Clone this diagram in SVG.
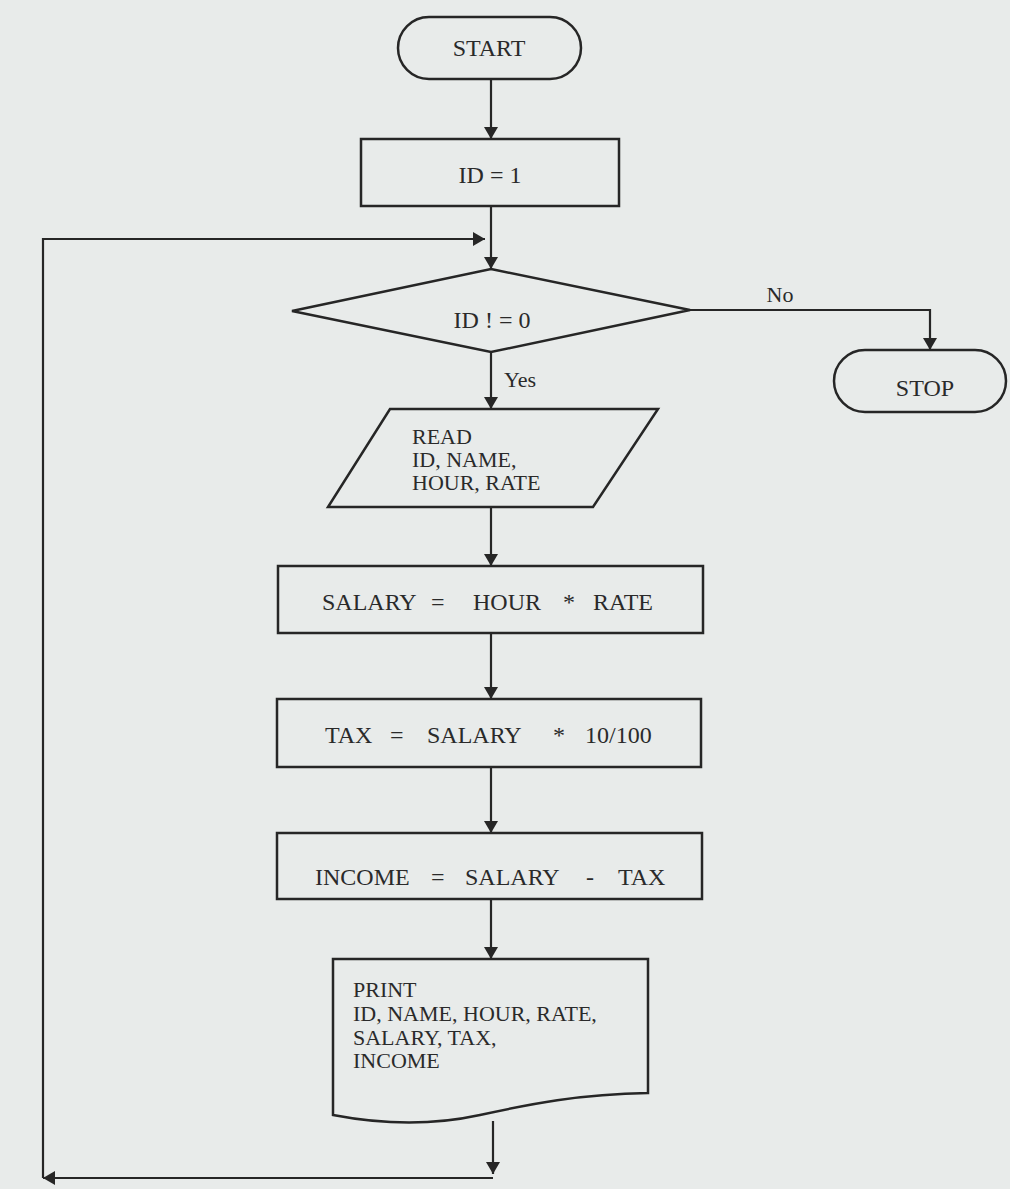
<svg xmlns="http://www.w3.org/2000/svg" width="1010" height="1189" viewBox="0 0 1010 1189">
<style>
.n{fill:none;stroke:#262626;stroke-width:2.5}
.c{fill:none;stroke:#262626;stroke-width:2.2}
</style>
<defs>
<marker id="ah" viewBox="0 0 12 14" refX="12" refY="7" markerWidth="12" markerHeight="14" markerUnits="userSpaceOnUse" orient="auto">
<path d="M0,0 L12,7 L0,14 Z" fill="#262626"/>
</marker>
</defs>
<rect width="1010" height="1189" fill="#e8ebea"/>
<g font-family="Liberation Serif, Times New Roman, serif" fill="#2a2a2a" font-size="24">
<g id="connectors">
<line class="c" x1="491" y1="79" x2="491" y2="139" marker-end="url(#ah)"/>
<line class="c" x1="491" y1="206" x2="491" y2="269" marker-end="url(#ah)"/>
<line class="c" x1="491" y1="352" x2="491" y2="409" marker-end="url(#ah)"/>
<line class="c" x1="491" y1="507" x2="491" y2="566" marker-end="url(#ah)"/>
<line class="c" x1="491" y1="633" x2="491" y2="699" marker-end="url(#ah)"/>
<line class="c" x1="491" y1="767" x2="491" y2="833" marker-end="url(#ah)"/>
<line class="c" x1="491" y1="899" x2="491" y2="959" marker-end="url(#ah)"/>
<polyline class="c" points="690,310 930,310 930,350" marker-end="url(#ah)"/>
<line class="c" x1="493" y1="1121" x2="493" y2="1174" marker-end="url(#ah)"/>
<line class="c" x1="493" y1="1178" x2="43" y2="1178" marker-end="url(#ah)"/>
<polyline class="c" points="43,1178 43,239 485,239" marker-end="url(#ah)"/>
<text font-size="22" x="780" y="302" text-anchor="middle">No</text>
<text font-size="22" x="504" y="387">Yes</text>
</g>
<g id="start">
<rect class="n" x="398" y="17" width="183" height="62" rx="31" ry="31"/>
<text x="489" y="56" text-anchor="middle">START</text>
</g>
<g id="init">
<rect class="n" x="361" y="139" width="258" height="67"/>
<text x="490" y="183" text-anchor="middle">ID = 1</text>
</g>
<g id="decision">
<polygon class="n" points="491,269 690,310 491,352 292,311"/>
<text x="492" y="328" text-anchor="middle">ID ! = 0</text>
</g>
<g id="stop">
<rect class="n" x="834" y="350" width="172" height="62" rx="31" ry="31"/>
<text x="925" y="396" text-anchor="middle">STOP</text>
</g>
<g id="read" font-size="22">
<polygon class="n" points="390,409 658,409 593,507 328,507"/>
<text x="412" y="444">READ</text>
<text x="412" y="467">ID, NAME,</text>
<text x="412" y="490">HOUR, RATE</text>
</g>
<g id="salary">
<rect class="n" x="278" y="566" width="425" height="67"/>
<text y="610"><tspan x="322">SALARY</tspan><tspan x="431">=</tspan><tspan x="473">HOUR</tspan><tspan x="563">*</tspan><tspan x="593">RATE</tspan></text>
</g>
<g id="tax">
<rect class="n" x="277" y="699" width="424" height="68"/>
<text y="743"><tspan x="325">TAX</tspan><tspan x="390">=</tspan><tspan x="427">SALARY</tspan><tspan x="553">*</tspan><tspan x="585">10/100</tspan></text>
</g>
<g id="income">
<rect class="n" x="277" y="833" width="425" height="66"/>
<text y="885"><tspan x="315">INCOME</tspan><tspan x="431">=</tspan><tspan x="465">SALARY</tspan><tspan x="586">-</tspan><tspan x="618">TAX</tspan></text>
</g>
<g id="print" font-size="22">
<path class="n" d="M333,959 L648,959 L648,1093 C580,1094 530,1104 480,1115 C430,1126 380,1124 333,1115 Z"/>
<text x="353" y="997">PRINT</text>
<text x="353" y="1021">ID, NAME, HOUR, RATE,</text>
<text x="353" y="1045">SALARY, TAX,</text>
<text x="353" y="1068">INCOME</text>
</g>
</g>
</svg>
